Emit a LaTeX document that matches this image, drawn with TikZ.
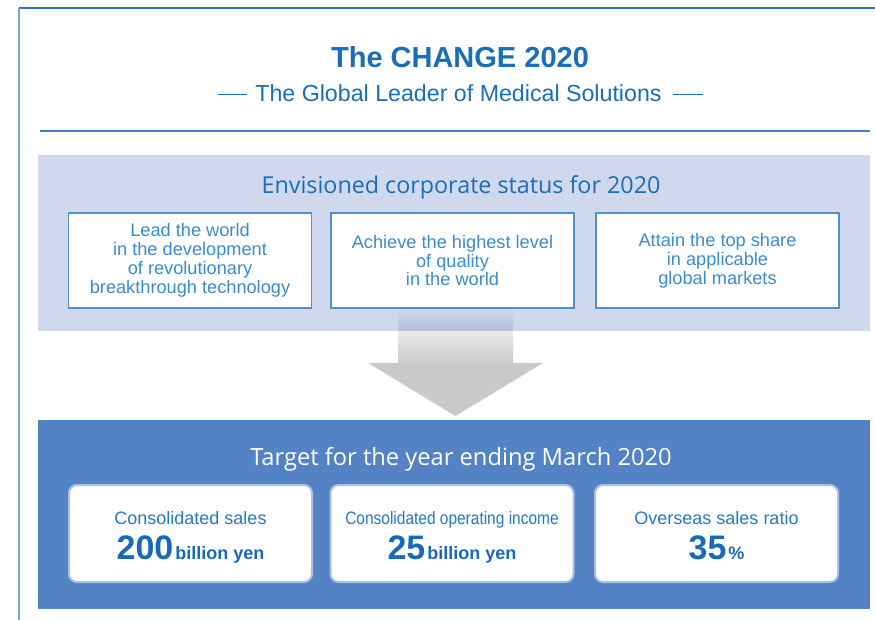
\documentclass[tikz,border=0pt]{standalone}
\usepackage{fontspec}
\setmainfont{Liberation Sans}
\newfontfamily\hum{Open Sans}
\newfontfamily\cond[FakeStretch=0.86]{Liberation Sans}
\definecolor{titleblue}{RGB}{26,109,183}
\definecolor{frametop}{RGB}{42,112,187}
\definecolor{frameleft}{RGB}{110,168,220}
\definecolor{ruleblue}{RGB}{60,130,200}
\definecolor{lightpanel}{RGB}{207,216,236}
\definecolor{darkpanel}{RGB}{83,131,196}
\definecolor{goalborder}{RGB}{79,144,207}
\definecolor{goaltext}{RGB}{60,140,205}
\definecolor{tgtborder}{RGB}{170,192,230}
\definecolor{tgtlabel}{RGB}{40,120,195}
\definecolor{tgtnum}{RGB}{25,105,185}
\definecolor{shaftdark}{RGB}{180,190,214}
\definecolor{shaftlight}{RGB}{235,235,236}
\definecolor{arrowgray}{RGB}{200,201,203}
\tikzset{
  goalbox/.style={draw=goalborder, line width=1.3pt, fill=white, minimum width=243pt, minimum height=95pt,
    align=center, text=goaltext, inner sep=0pt, font=\fontsize{18.2}{18.9}\selectfont},
  tgtbox/.style={draw=tgtborder, line width=2pt, fill=white, rounded corners=8pt, minimum width=243pt, minimum height=97pt, inner sep=0pt},
  tgtlab/.style={anchor=base, text=tgtlabel, inner sep=0pt, font=\fontsize{18}{20}\selectfont},
  tgtval/.style={anchor=base, text=tgtnum, inner sep=0pt},
  heading/.style={anchor=base, inner sep=0pt},
}
\begin{document}
\begin{tikzpicture}[x=1pt,y=-1pt]
\useasboundingbox (0,0) rectangle (875,620);
% frame
\draw[frametop, line width=1.5pt] (19,8) -- (875,8);
\draw[frameleft, line width=1.5pt] (19,8) -- (19,620);
% title
\node[anchor=base, inner sep=0pt, text=titleblue, font=\bfseries\fontsize{29}{31}\selectfont] (title) at (460,68) {The CHANGE 2020};
\node[anchor=base, inner sep=0pt, text=titleblue, font=\fontsize{23.2}{25}\selectfont] (sub) at (458.5,101.5) {The Global Leader of Medical Solutions};
\coordinate (dl1) at (218,94.5); \coordinate (dl2) at (247,94.5);
\coordinate (dr1) at (673,94.5); \coordinate (dr2) at (703,94.5);
\draw[titleblue, line width=0.9pt] (dl1) -- (dl2);
\draw[titleblue, line width=0.9pt] (dr1) -- (dr2);
\draw[ruleblue, line width=1.5pt] (40,131) -- (870,131);
% light panel
\fill[lightpanel] (38,155) rectangle (870,331);
\node[heading, text=titleblue, font=\hum\fontsize{23.3}{25}\selectfont] (h1) at (461,194) {Envisioned corporate status for 2020};
% arrow
\shade[top color=lightpanel, bottom color=shaftdark] (398,309) rectangle (513,331);
\shade[top color=shaftlight, bottom color=arrowgray] (398,331) rectangle (513,363.5);
\fill[arrowgray] (368,363) -- (543,363) -- (455.5,416) -- cycle;
% goal boxes
\node[goalbox] (g1) at (190,260.5) {Lead the world\\in the development\\of revolutionary\\breakthrough technology};
\node[goalbox] (g2) at (452.5,260.5) {Achieve the highest level\\of quality\\in the world};
\node[goalbox] (g3) at (717.5,260.5) {Attain the top share\\in applicable\\global markets};
% dark panel
\fill[darkpanel] (38,420) rectangle (870,609);
\node[heading, text=white, font=\hum\fontsize{23.7}{25}\selectfont] (h2) at (461,465) {Target for the year ending March 2020};
% target boxes
\node[tgtbox] (t1) at (190.5,533.5) {};
\node[tgtbox] (t2) at (452,533.5) {};
\node[tgtbox] (t3) at (716.5,533.5) {};
\node[tgtlab] (l1) at (190.5,524) {Consolidated sales};
\node[tgtlab] (l2) at (452,524) {\cond Consolidated operating income};
\node[tgtlab] (l3) at (716.5,524) {Overseas sales ratio};
\node[tgtval] (v1) at (190.5,559) {\bfseries\fontsize{34}{36}\selectfont 200\kern2pt\fontsize{18}{20}\selectfont billion yen};
\node[tgtval] (v2) at (452,559) {\bfseries\fontsize{34}{36}\selectfont 25\kern2pt\fontsize{18}{20}\selectfont billion yen};
\node[tgtval] (v3) at (716.5,559) {\bfseries\fontsize{34}{36}\selectfont 35\kern2pt\fontsize{18}{20}\selectfont\%};
\end{tikzpicture}
\end{document}
